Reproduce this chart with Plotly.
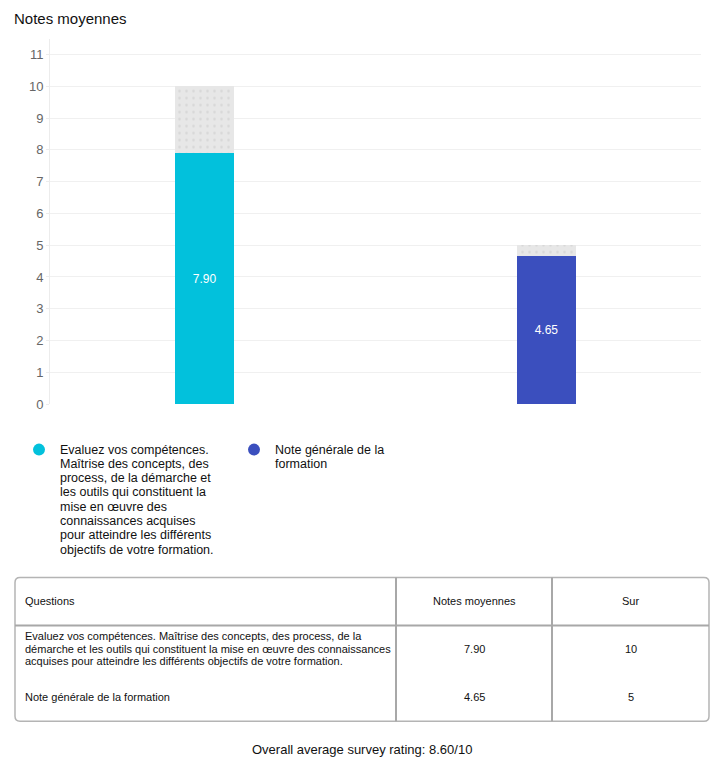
import plotly.graph_objects as go

# ---- data -------------------------------------------------------------
questions = [
    "Evaluez vos compétences. Maîtrise des concepts, des process, de la démarche et les outils qui constituent la mise en œuvre des connaissances acquises pour atteindre les différents objectifs de votre formation.",
    "Note générale de la formation",
]
scores = [7.90, 4.65]
max_scores = [10, 5]
y_ticks = list(range(0, 12))

legend_lines = [
    ["Evaluez vos compétences.", "Maîtrise des concepts, des", "process, de la démarche et",
     "les outils qui constituent la", "mise en œuvre des", "connaissances acquises",
     "pour atteindre les différents", "objectifs de votre formation."],
    ["Note générale de la", "formation"],
]
table_headers = ["Questions", "Notes moyennes", "Sur"]
table_lines = [
    ["Evaluez vos compétences. Maîtrise des concepts, des process, de la",
     "démarche et les outils qui constituent la mise en œuvre des connaissances",
     "acquises pour atteindre les différents objectifs de votre formation."],
    ["Note générale de la formation"],
]
chart_title = "Notes moyennes"

# ---- helpers ------------------------------------------------------------
W, H = 723, 759
OFF = 8          # page body margin
S = 0.9905       # vertical squeeze seen in the photographed page
FW, FH = W - 2 * OFF, 760
FONT = "Liberation Sans"
colors = ["#02C1DC", "#3B4FBE"]


def px(x):
    # picture pixel -> paper x
    return (x - OFF) / FW


def py(y):
    # picture pixel -> paper y
    return 1 - (y / S - OFF) / FH


remainder = [m - s for s, m in zip(scores, max_scores)]
overall = sum(s / m for s, m in zip(scores, max_scores)) / len(scores) * 10

fig = go.Figure()
fig.add_trace(go.Bar(
    x=questions, y=scores, width=0.1725,
    marker=dict(color=colors, line=dict(width=0)),
    text=[f"{s:.2f}" for s in scores],
    textposition="inside", insidetextanchor="middle",
    textfont=dict(color="white", size=12, family=FONT),
    hoverinfo="skip",
))
fig.add_trace(go.Bar(
    x=questions, y=remainder, width=0.1725,
    marker=dict(color="#e7e7e7", line=dict(width=0),
                pattern=dict(shape=".", fillmode="replace", bgcolor="#e7e7e7",
                             fgcolor="#d6d6d6", size=7, solidity=0.1)),
    hoverinfo="skip",
))

fig.update_layout(
    width=FW, height=FH, barmode="stack", showlegend=False,
    margin=dict(l=0, r=0, t=0, b=0),
    paper_bgcolor="white", plot_bgcolor="white",
    font=dict(family=FONT, color="#222"),
    xaxis=dict(domain=[px(50), px(701)], range=[-0.452, 1.452],
               showticklabels=False, showgrid=False, zeroline=False, showline=False),
    yaxis=dict(domain=[py(404.5), py(38.5)], range=[0, 11.5],
               tickvals=y_ticks, showgrid=True, gridcolor="#f0f0f0", gridwidth=1,
               zeroline=False, showline=True, linecolor="#ececec", linewidth=1,
               ticks="outside", ticklen=3, tickcolor="#ececec",
               tickfont=dict(size=13, color="#666", family=FONT)),
)

ann = []
shapes = []

# title (anchored to the very top so it is not clipped)
ann.append(dict(x=px(12), y=1, text=chart_title, xanchor="left", yanchor="top",
                font=dict(size=15, color="#111", family=FONT)))

# legend
legend_pos = [(39, 57.5), (254, 272.5)]
for (mx, tx), lines, col in zip(legend_pos, legend_lines, colors):
    shapes.append(dict(type="circle", xref="paper", yref="paper",
                       x0=px(mx - 6), x1=px(mx + 6), y0=py(450 + 6), y1=py(450 - 6),
                       fillcolor=col, line=dict(width=0)))
    for i, line in enumerate(lines):
        ann.append(dict(x=px(tx), y=py(450 + i * 14.3), text=line,
                        xanchor="left", yanchor="middle",
                        font=dict(size=12.5, color="#111", family=FONT)))

# table frame (rounded)
x0, x1, y0, y1, r = 15, 709, 578, 722, 5
pts = [("M", x0 + r, y0), ("L", x1 - r, y0), ("Q", x1, y0, x1, y0 + r), ("L", x1, y1 - r),
       ("Q", x1, y1, x1 - r, y1), ("L", x0 + r, y1), ("Q", x0, y1, x0, y1 - r),
       ("L", x0, y0 + r), ("Q", x0, y0, x0 + r, y0)]
path = ""
for p in pts:
    cmd = p[0]
    coords = p[1:]
    seg = " ".join(f"{px(coords[k]):.5f},{py(coords[k + 1]):.5f}" for k in range(0, len(coords), 2))
    path += f"{cmd} {seg} "
path += "Z"
shapes.append(dict(type="path", xref="paper", yref="paper", path=path,
                   line=dict(color="#b4b4b4", width=1.5)))
# header separator and column lines
shapes.append(dict(type="line", xref="paper", yref="paper", x0=px(x0), x1=px(x1),
                   y0=py(626), y1=py(626), line=dict(color="#a8a8a8", width=2)))
for cx in (396, 552):
    shapes.append(dict(type="line", xref="paper", yref="paper", x0=px(cx), x1=px(cx),
                       y0=py(y0), y1=py(y1), line=dict(color="#a8a8a8", width=2)))

tfont = dict(size=11, color="#111", family=FONT)
ann.append(dict(x=px(23), y=py(602), text=table_headers[0], xanchor="left", yanchor="middle", font=tfont))
ann.append(dict(x=px(474), y=py(602), text=table_headers[1], xanchor="center", yanchor="middle", font=tfont))
ann.append(dict(x=px(630.5), y=py(602), text=table_headers[2], xanchor="center", yanchor="middle", font=tfont))

row_first = [637, 698]
row_mid = [650, 698]
for lines, yf, ym, s, m in zip(table_lines, row_first, row_mid, scores, max_scores):
    for i, line in enumerate(lines):
        ann.append(dict(x=px(23), y=py(yf + i * 12.5), text=line, xanchor="left",
                        yanchor="middle", font=tfont))
    ann.append(dict(x=px(474), y=py(ym), text=f"{s:.2f}", xanchor="center", yanchor="middle", font=tfont))
    ann.append(dict(x=px(630.5), y=py(ym), text=f"{m}", xanchor="center", yanchor="middle", font=tfont))

# footer
ann.append(dict(x=px(362), y=py(750), text=f"Overall average survey rating: {overall:.2f}/10",
                xanchor="center", yanchor="middle", font=dict(size=13, color="#111", family=FONT)))

for a in ann:
    a.update(xref="paper", yref="paper", showarrow=False)

fig.update_layout(annotations=ann, shapes=shapes)
fig.write_html("out.html")
